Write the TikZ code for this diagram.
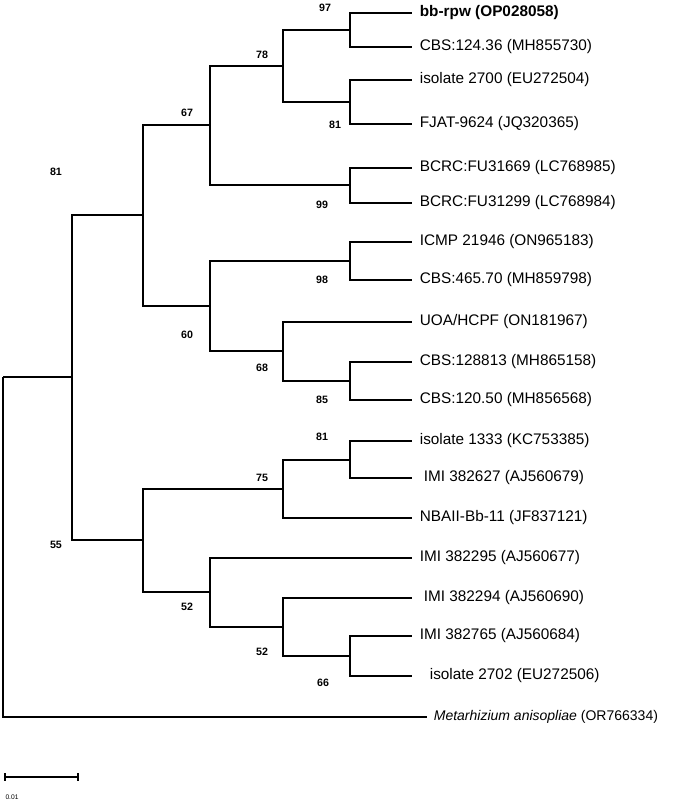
\documentclass[tikz,border=0pt]{standalone}
\usepackage{fontspec}
\setmainfont{Liberation Sans}
\begin{document}
\begin{tikzpicture}[x=0.75pt, y=-0.75pt, line width=0.8pt,
        every node/.style={inner sep=1pt},
        leaf/.style={anchor=west, font=\fontsize{11.5}{13}\selectfont},
        boot/.style={font=\bfseries\fontsize{8}{9}\selectfont}]
    \useasboundingbox (0,0) rectangle (685,803);
    % Internal nodes
    \coordinate (n97) at (350,30);
    \coordinate (n81a) at (350,102);
    \coordinate (n78) at (283,66);
    \coordinate (n99) at (350,185);
    \coordinate (n67) at (210,125);
    \coordinate (n98) at (350,261);
    \coordinate (n85) at (350,381);
    \coordinate (n68) at (283,351);
    \coordinate (n60) at (210,306);
    \coordinate (n81b) at (143,215);
    \coordinate (n81c) at (350,460);
    \coordinate (n75) at (283,489);
    \coordinate (n66) at (350,656);
    \coordinate (n52b) at (283,627);
    \coordinate (n52a) at (210,592);
    \coordinate (n55) at (143,540);
    \coordinate (n81d) at (72,377);
    \coordinate (root) at (3,377);

    % Leaves
    \foreach \i/\y/\lx/\txt in {
        2/47/418/{CBS:124.36 (MH855730)},
        3/80/418/{isolate 2700 (EU272504)},
        4/124/418/{FJAT-9624 (JQ320365)},
        5/168/418/{BCRC:FU31669 (LC768985)},
        6/203/418/{BCRC:FU31299 (LC768984)},
        7/242/418/{ICMP 21946 (ON965183)},
        8/280/418/{CBS:465.70 (MH859798)},
        9/322/418/{UOA/HCPF (ON181967)},
        10/362/418/{CBS:128813 (MH865158)},
        11/400/418/{CBS:120.50 (MH856568)},
        12/441/418/{isolate 1333 (KC753385)},
        13/478/422/{IMI 382627 (AJ560679)},
        14/518/418/{NBAII-Bb-11 (JF837121)},
        15/558/418/{IMI 382295 (AJ560677)},
        16/598/422/{IMI 382294 (AJ560690)},
        17/636/418/{IMI 382765 (AJ560684)},
        18/676/428/{isolate 2702 (EU272506)}}
        \node[leaf] (l\i) at (\lx,\y) {\txt};
    \node[leaf] (l1) at (418,13) {\textbf{bb-rpw (OP028058)}};
    \node[leaf, font=\fontsize{10.5}{12}\selectfont] (l19) at (432,717)
        {\textit{Metarhizium anisopliae} (OR766334)};
    \foreach \i/\y in {1/13,2/47,3/80,4/124,5/168,6/203,7/242,8/280,9/322,
        10/362,11/400,12/441,13/478,14/518,15/558,16/598,17/636,18/676}
        \coordinate (t\i) at (412,\y);
    \coordinate (t19) at (427,717);

    % Branches
    \draw (n97) |- (t1); \draw (n97) |- (t2);
    \draw (n81a) |- (t3); \draw (n81a) |- (t4);
    \draw (n78) |- (n97); \draw (n78) |- (n81a);
    \draw (n99) |- (t5); \draw (n99) |- (t6);
    \draw (n67) |- (n78); \draw (n67) |- (n99);
    \draw (n98) |- (t7); \draw (n98) |- (t8);
    \draw (n85) |- (t10); \draw (n85) |- (t11);
    \draw (n68) |- (t9); \draw (n68) |- (n85);
    \draw (n60) |- (n98); \draw (n60) |- (n68);
    \draw (n81b) |- (n67); \draw (n81b) |- (n60);
    \draw (n81c) |- (t12); \draw (n81c) |- (t13);
    \draw (n75) |- (n81c); \draw (n75) |- (t14);
    \draw (n66) |- (t17); \draw (n66) |- (t18);
    \draw (n52b) |- (t16); \draw (n52b) |- (n66);
    \draw (n52a) |- (t15); \draw (n52a) |- (n52b);
    \draw (n55) |- (n75); \draw (n55) |- (n52a);
    \draw (n81d) |- (n81b); \draw (n81d) |- (n55);
    \draw (root) |- (n81d); \draw (root) |- (t19);

    % Bootstrap values
    \node[boot] at (325,8) {97};
    \node[boot] at (262,55) {78};
    \node[boot] at (187,113) {67};
    \node[boot] at (56,172) {81};
    \node[boot] at (335,125) {81};
    \node[boot] at (322,205) {99};
    \node[boot] at (322,280) {98};
    \node[boot] at (187,335) {60};
    \node[boot] at (262,368) {68};
    \node[boot] at (322,400) {85};
    \node[boot] at (322,437) {81};
    \node[boot] at (262,478) {75};
    \node[boot] at (56,545) {55};
    \node[boot] at (187,607) {52};
    \node[boot] at (262,652) {52};
    \node[boot] at (323,683) {66};

    % Scale bar
    \coordinate (s1) at (5,777);
    \coordinate (s2) at (78,777);
    \draw (s1) -- (s2);
    \draw (s1) ++(0,-4) -- ++(0,8);
    \draw (s2) ++(0,-4) -- ++(0,8);
    \node[font=\fontsize{5}{6}\selectfont] (scale) at (12,797) {0.01};
\end{tikzpicture}
\end{document}
